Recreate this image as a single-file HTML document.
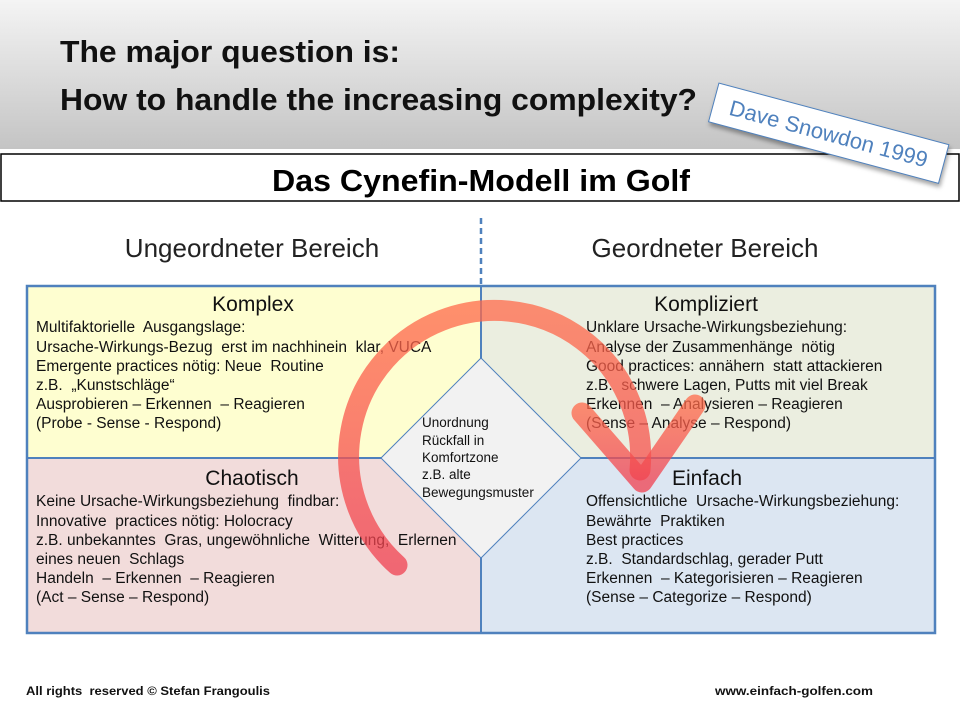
<!DOCTYPE html>
<html><head><meta charset="utf-8"><style>
html,body{margin:0;padding:0;background:#fff}
svg{display:block}
text{white-space:pre}
</style></head><body>
<svg width="960" height="720" viewBox="0 0 960 720" xmlns="http://www.w3.org/2000/svg" font-family="Liberation Sans, sans-serif">
<defs>
<linearGradient id="hg" x1="0" y1="0" x2="0" y2="1">
<stop offset="0" stop-color="#f4f4f4"/><stop offset="1" stop-color="#c4c4c4"/>
</linearGradient>
<linearGradient id="rg" x1="0" y1="0" x2="0" y2="1">
<stop offset="0" stop-color="#ff6a4a"/><stop offset="1" stop-color="#f04050"/>
</linearGradient>
</defs>
<rect x="0" y="0" width="960" height="149" fill="url(#hg)"/>
<text x="60" y="62" font-size="31" font-weight="bold" textLength="340" lengthAdjust="spacingAndGlyphs" fill="#111">The major question is:</text>
<text x="60" y="110" font-size="31" font-weight="bold" textLength="637" lengthAdjust="spacingAndGlyphs" fill="#111">How to handle the increasing complexity?</text>
<rect x="1" y="154" width="958" height="47" fill="#fff" stroke="#000" stroke-width="1.5"/>
<text x="481" y="191" font-size="31" font-weight="bold" text-anchor="middle" textLength="418" lengthAdjust="spacingAndGlyphs" fill="#000">Das Cynefin-Modell im Golf</text>
<g transform="rotate(15 828 132)">
<rect x="710" y="113" width="238" height="40" fill="#fff" stroke="#4f81bd" stroke-width="1" style="filter:drop-shadow(2px 3px 2px rgba(0,0,0,0.35))"/>
<text x="829" y="141" font-size="22" text-anchor="middle" fill="#4f81bd">Dave Snowdon 1999</text>
</g>
<line x1="481" y1="218" x2="481" y2="285" stroke="#4f81bd" stroke-width="2.5" stroke-dasharray="6,4"/>
<text x="252" y="257" font-size="26" text-anchor="middle" fill="#222">Ungeordneter Bereich</text>
<text x="705" y="257" font-size="26" text-anchor="middle" fill="#222">Geordneter Bereich</text>
<rect x="27" y="286" width="454" height="172" fill="#fefed0"/>
<rect x="481" y="286" width="454" height="172" fill="#ebeee0"/>
<rect x="27" y="458" width="454" height="175" fill="#f2dcdb"/>
<rect x="481" y="458" width="454" height="175" fill="#dce6f2"/>
<rect x="27" y="286" width="908" height="347" fill="none" stroke="#4f81bd" stroke-width="2.5"/>
<line x1="481" y1="286" x2="481" y2="633" stroke="#4f81bd" stroke-width="2"/>
<line x1="27" y1="458" x2="935" y2="458" stroke="#4f81bd" stroke-width="2"/>
<g font-size="15.5" fill="#111">
<text x="253" y="311" font-size="21" text-anchor="middle">Komplex</text>
<text x="36" y="332">Multifaktorielle  Ausgangslage:</text>
<text x="36" y="352">Ursache-Wirkungs-Bezug  erst im nachhinein  klar, VUCA</text>
<text x="36" y="371">Emergente practices nötig: Neue  Routine</text>
<text x="36" y="390">z.B.  „Kunstschläge“</text>
<text x="36" y="409">Ausprobieren – Erkennen  – Reagieren</text>
<text x="36" y="428">(Probe - Sense - Respond)</text>
<text x="252" y="485" font-size="21" text-anchor="middle">Chaotisch</text>
<text x="36" y="506">Keine Ursache-Wirkungsbeziehung  findbar:</text>
<text x="36" y="526">Innovative  practices nötig: Holocracy</text>
<text x="36" y="545">z.B. unbekanntes  Gras, ungewöhnliche  Witterung,  Erlernen</text>
<text x="36" y="564">eines neuen  Schlags</text>
<text x="36" y="583">Handeln  – Erkennen  – Reagieren</text>
<text x="36" y="602">(Act – Sense – Respond)</text>
<text x="706" y="311" font-size="21" text-anchor="middle">Kompliziert</text>
<text x="586" y="332">Unklare Ursache-Wirkungsbeziehung:</text>
<text x="586" y="352">Analyse der Zusammenhänge  nötig</text>
<text x="586" y="371">Good practices: annähern  statt attackieren</text>
<text x="586" y="390">z.B.  schwere Lagen, Putts mit viel Break</text>
<text x="586" y="409">Erkennen  – Analysieren – Reagieren</text>
<text x="586" y="428">(Sense – Analyse – Respond)</text>
<text x="707" y="485" font-size="21" text-anchor="middle">Einfach</text>
<text x="586" y="506">Offensichtliche  Ursache-Wirkungsbeziehung:</text>
<text x="586" y="526">Bewährte  Praktiken</text>
<text x="586" y="545">Best practices</text>
<text x="586" y="564">z.B.  Standardschlag, gerader Putt</text>
<text x="586" y="583">Erkennen  – Kategorisieren – Reagieren</text>
<text x="586" y="602">(Sense – Categorize – Respond)</text>
</g>
<polygon points="481,358 581,458 481,558 381,458" fill="#f2f2f2" stroke="#4f81bd" stroke-width="1"/>
<g font-size="13.5" fill="#111">
<text x="422" y="427">Unordnung</text>
<text x="422" y="445">Rückfall in</text>
<text x="422" y="462">Komfortzone</text>
<text x="422" y="479">z.B. alte</text>
<text x="422" y="497">Bewegungsmuster</text>
</g>
<g fill="none" stroke="url(#rg)" stroke-opacity="0.75" stroke-width="21" stroke-linecap="round" stroke-linejoin="round">
<path d="M397,565 A146,146 0 1 1 640,470"/>
<polyline points="582,413 642,482 695,405"/>
</g>
<text x="26" y="695" font-size="12" font-weight="bold" textLength="244" lengthAdjust="spacingAndGlyphs" fill="#111">All rights  reserved © Stefan Frangoulis</text>
<text x="715" y="695" font-size="12" font-weight="bold" textLength="158" lengthAdjust="spacingAndGlyphs" fill="#111">www.einfach-golfen.com</text>
</svg>
</body></html>
